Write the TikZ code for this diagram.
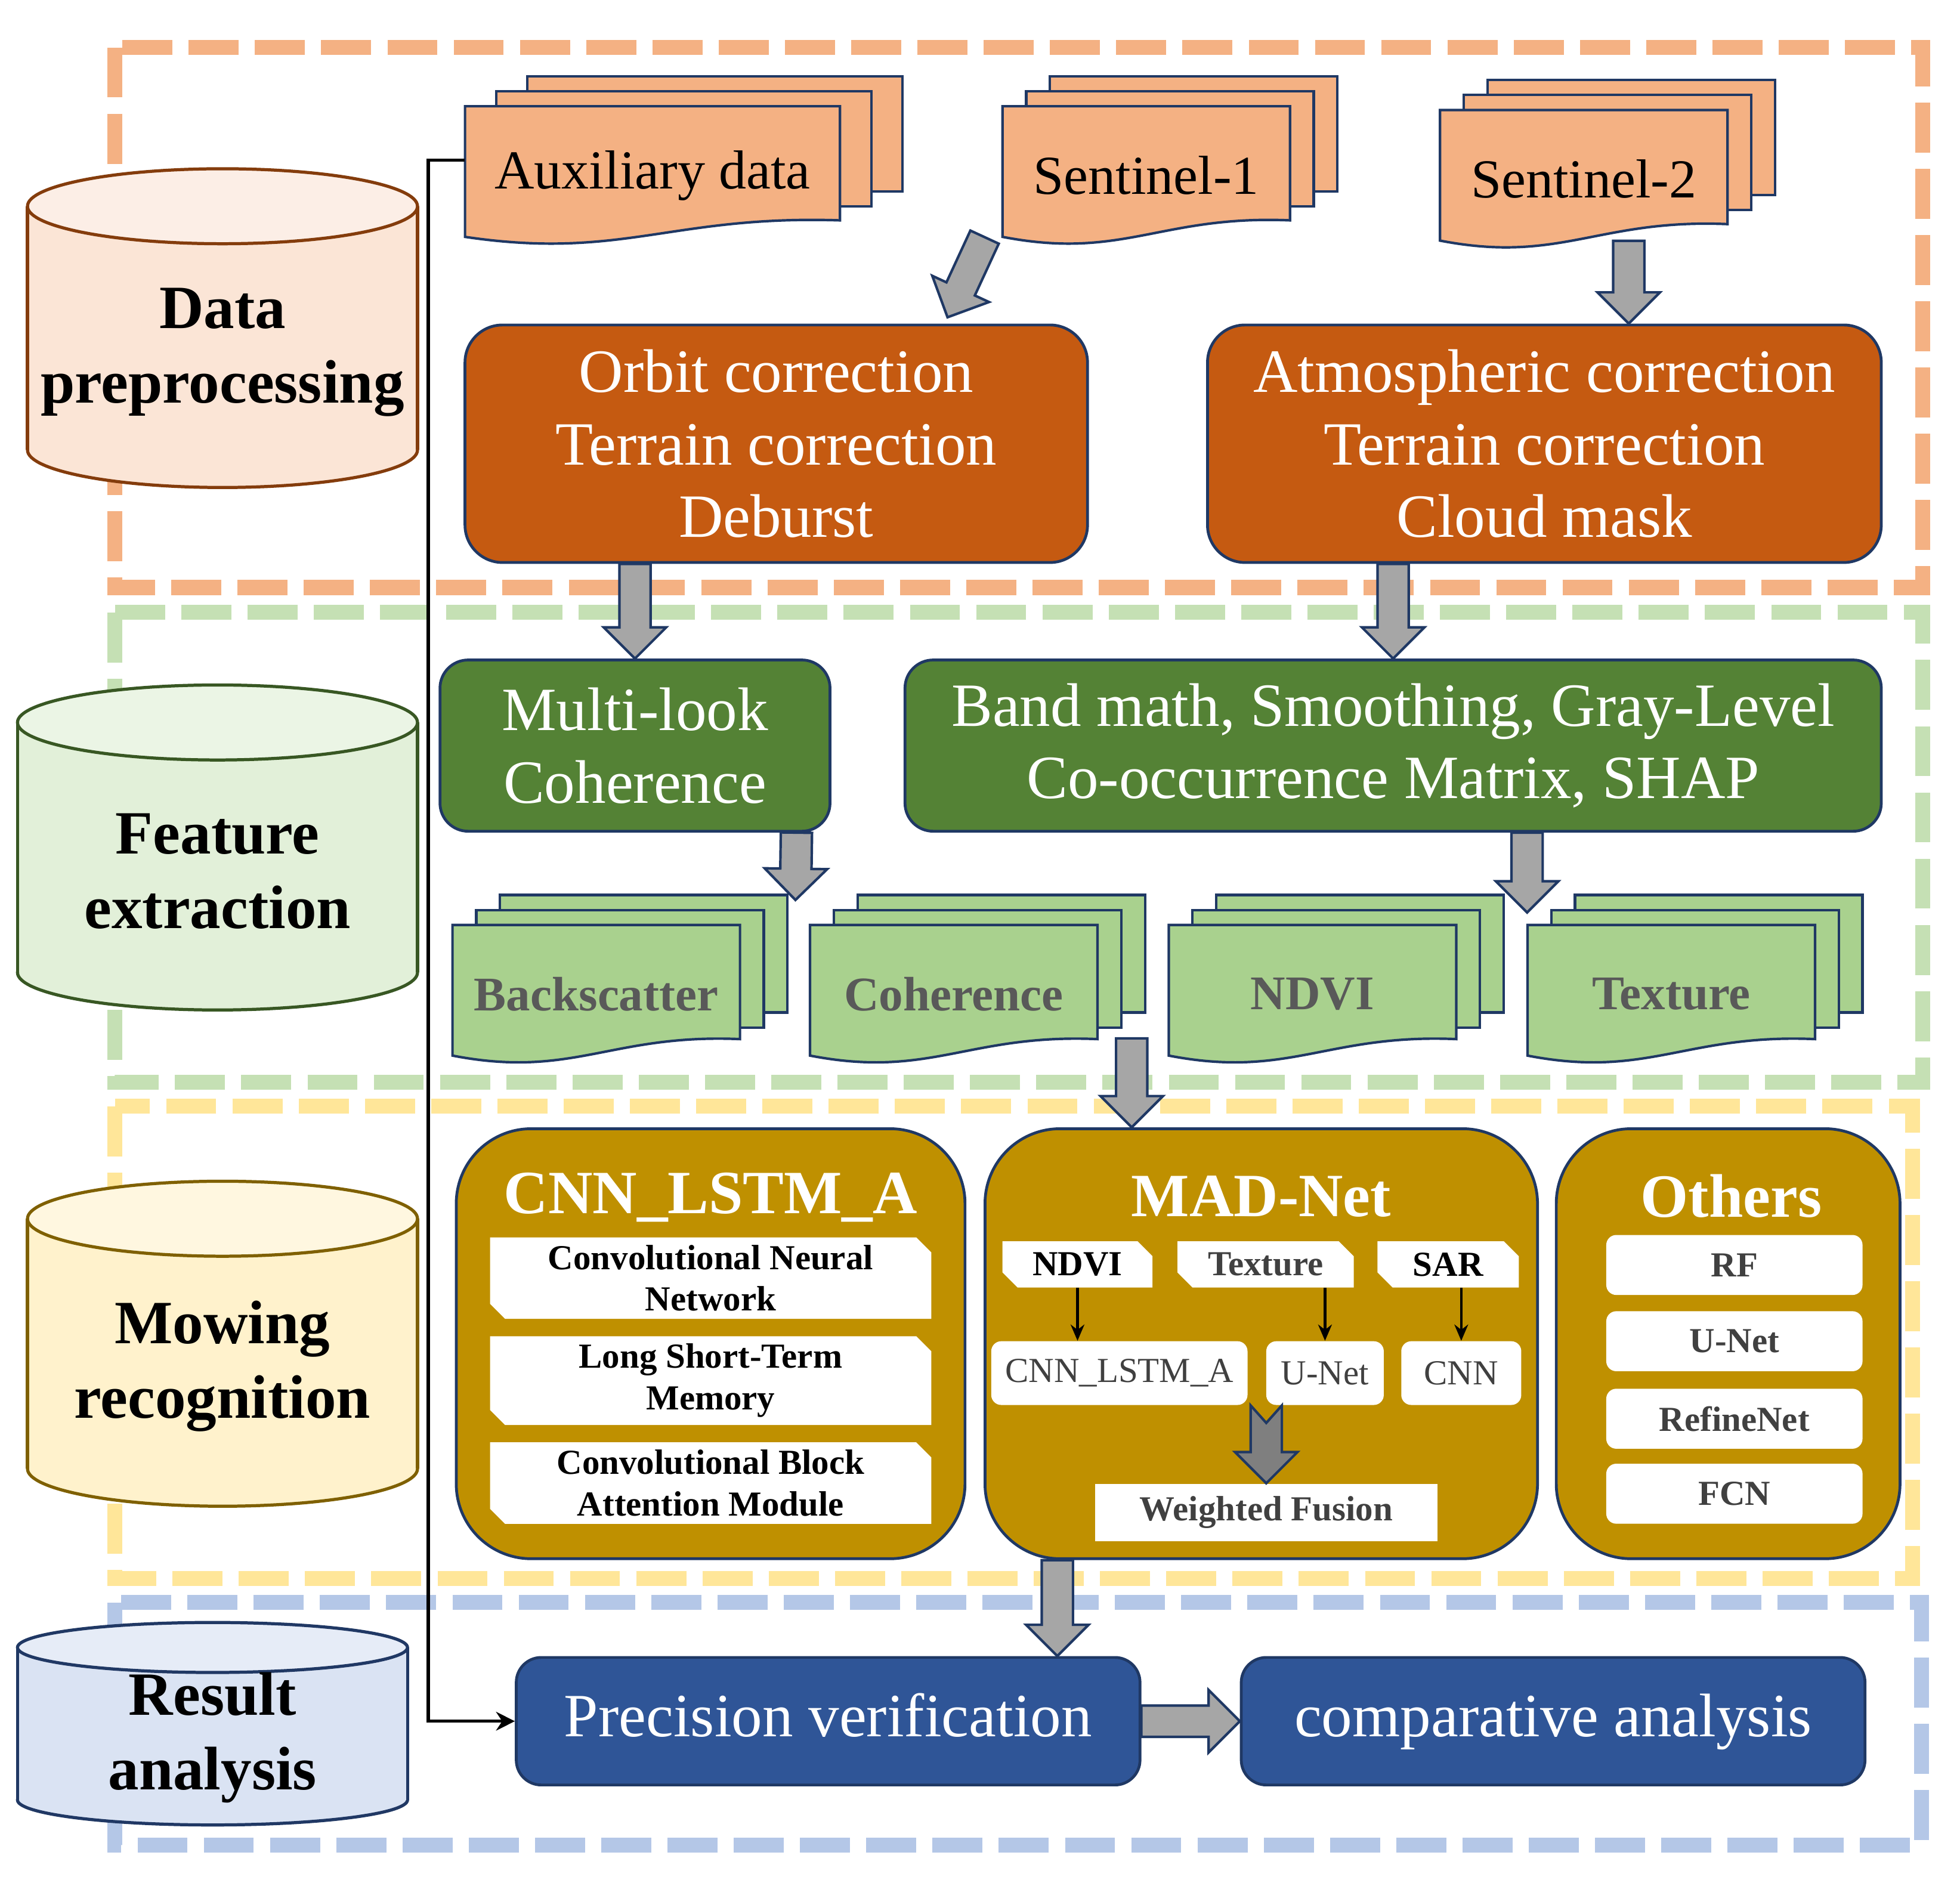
\documentclass[tikz,border=0pt]{standalone}
\usepackage{fontspec}
\setmainfont{Liberation Serif}
\usepackage{xcolor}
\usepackage{tikz}
\usetikzlibrary{arrows.meta,calc,shapes.misc}
\definecolor{navy}{HTML}{1F3864}
\definecolor{dashorange}{HTML}{F4B183}
\definecolor{dashgreen}{HTML}{C5E0B4}
\definecolor{dashyellow}{HTML}{FFE699}
\definecolor{dashblue}{HTML}{B4C7E7}
\definecolor{docorange}{HTML}{F4B183}
\definecolor{procorange}{HTML}{C55A11}
\definecolor{featgreen}{HTML}{548235}
\definecolor{docgreen}{HTML}{A9D18E}
\definecolor{modelgold}{HTML}{BF9000}
\definecolor{resblue}{HTML}{2F5597}
\definecolor{arrowgray}{HTML}{A6A6A6}
\definecolor{arrowdark}{HTML}{7F7F7F}
\definecolor{labelgray}{HTML}{595959}
\definecolor{inkgray}{HTML}{404040}
\definecolor{drumAbody}{HTML}{FBE5D6}
\definecolor{drumAtop}{HTML}{FCEEE6}
\definecolor{drumAline}{HTML}{843C0C}
\definecolor{drumBbody}{HTML}{E2F0D9}
\definecolor{drumBtop}{HTML}{EBF5E5}
\definecolor{drumBline}{HTML}{385723}
\definecolor{drumCbody}{HTML}{FFF2CC}
\definecolor{drumCtop}{HTML}{FFF7E0}
\definecolor{drumCline}{HTML}{7F6000}
\definecolor{drumDbody}{HTML}{DAE3F3}
\definecolor{drumDtop}{HTML}{E6ECF7}
\definecolor{drumDline}{HTML}{203864}
\tikzset{
  >={Stealth[length=3mm,width=3mm]},
  zone/.style={line width=2.4mm, dash pattern=on 8mm off 2.6mm},
  drumline/.style={line width=.5mm},
  drumtext/.style={align=center, font=\bfseries\fontsize{28}{34}\selectfont},
  sheetline/.style={draw=navy, line width=.4mm},
  doclabel/.style={font=\fontsize{25}{30}\selectfont},
  featlabel/.style={font=\bfseries\fontsize{22}{26}\selectfont, text=labelgray},
  stage/.style={draw=navy, line width=.45mm, text=white, align=center, inner sep=0pt, font=\fontsize{28}{33}\selectfont},
  model/.style={stage, fill=modelgold, rounded corners=12mm},
  title/.style={text=white, font=\bfseries\fontsize{28}{33}\selectfont},
  part/.style={chamfered rectangle, chamfered rectangle corners={north east,south west},
    chamfered rectangle xsep=1.2mm, chamfered rectangle ysep=1.2mm, fill=white, inner sep=0pt,
    align=center, font=\bfseries\fontsize{16}{19}\selectfont},
  tag/.style={fill=white, rounded corners=1.6mm, inner sep=0pt, text=inkgray, font=\fontsize{16}{19}\selectfont},
  fatarrow/.style={draw=navy, fill=arrowgray, line width=.4mm, line join=miter},
  tailcut/.store in=\arrowtail, tailcut=0mm,
  pointer/.style={->, line width=.5mm},
  smallpointer/.style={-{Stealth[length=2.6mm,width=2.2mm]}, line width=.4mm}
}
% cylinder: centre x, top y, bottom y, x radius, y radius, colour prefix
\newcommand{\drum}[6]{%
  \draw[drumline,draw=#6line,fill=#6body] (#1,#3) ellipse[x radius=#4,y radius=#5];
  \fill[#6body] (#1-#4,#2) rectangle (#1+#4,#3);
  \draw[drumline,draw=#6line] (#1-#4,#2) -- (#1-#4,#3) (#1+#4,#2) -- (#1+#4,#3);
  \draw[drumline,draw=#6line,fill=#6top] (#1,#2) ellipse[x radius=#4,y radius=#5];}
% front sheet with a wavy foot: x, y, w, h, fill
\newcommand{\sheet}[5]{%
  \draw[sheetline,fill=#5,shift={(#1,#2)},xscale=#3,yscale=#4]
    (0,0) -- (1,0) -- (1,.83) .. controls (.55,.79) and (.42,1.12) .. (0,.95) -- cycle;}
% block arrow between two points
\newcommand{\fatarrow}[3][]{%
  \draw[fatarrow,#1] let \p1=(#2), \p2=(#3), \n1={atan2(\y2-\y1,\x2-\x1)}, \n2={veclen(\x2-\x1,\y2-\y1)} in
    [shift={(\p1)}, rotate=\n1]
    (0mm,-2.5mm) -- (\n2-5mm,-2.5mm) -- (\n2-5mm,-5mm) -- (\n2,0mm) -- (\n2-5mm,5mm)
    -- (\n2-5mm,2.5mm) -- (0mm,2.5mm) -- (\arrowtail,0mm) -- cycle;}

\begin{document}
\begin{tikzpicture}[x=0.2mm,y=-0.2mm]
  \path[use as bounding box,fill=white] (0,0) rectangle (1568,1506);

  % stage frames
  \draw[zone,dashorange] (92,38) rectangle (1538,470);
  \draw[zone,dashgreen] (92,490) rectangle (1538,866);
  \draw[zone,dashyellow] (92,885) rectangle (1530,1263);
  \draw[zone,dashblue] (92,1282) rectangle (1537,1476);

  % stage drums
  \drum{178}{165}{360}{156}{30}{drumA}
  \drum{174}{578}{778}{160}{30}{drumB}
  \drum{178}{975}{1175}{156}{30}{drumC}
  \drum{170}{1318}{1440}{156}{20}{drumD}
  \node[drumtext] (prep) at (178,282) {Data\\preprocessing};
  \node[drumtext] (feat) at (174,697) {Feature\\extraction};
  \node[drumtext] (mow) at (178,1093) {Mowing\\recognition};
  \node[drumtext] (res) at (170,1390) {Result\\analysis};

  % input data
  \foreach \nm/\x/\y/\w/\dx/\lbl in {aux/372/85/300/25/Auxiliary data, s1/802/85/230/19/Sentinel-1, s2/1152/88/230/19/Sentinel-2}{
    \draw[sheetline,fill=docorange] (\x+2*\dx,\y-24) rectangle ++(\w,92);
    \draw[sheetline,fill=docorange] (\x+\dx,\y-12) rectangle ++(\w,92);
    \sheet{\x}{\y}{\w}{110}{docorange}
    \node[doclabel,minimum width=\w*0.2mm,minimum height=22mm,anchor=north] (\nm) at (\x+\w/2,\y) {\lbl};
  }

  \node[stage,fill=procorange,rounded corners=6mm,minimum width=99.6mm,minimum height=38mm] (orbit) at (621,355)
    {Orbit correction\\Terrain correction\\Deburst};
  \node[stage,fill=procorange,rounded corners=6mm,minimum width=107.8mm,minimum height=38mm] (atmo) at (1235.5,355)
    {Atmospheric correction\\Terrain correction\\Cloud mask};

  % features
  \node[stage,fill=featgreen,rounded corners=4.5mm,minimum width=62.4mm,minimum height=27.4mm] (mlook) at (508,596.5)
    {Multi-look\\Coherence};
  \node[stage,fill=featgreen,rounded corners=4.5mm,minimum width=156.2mm,minimum height=27.4mm] (band) at (1114.5,596.5)
    {Band math, Smoothing, Gray-Level\\Co-occurrence Matrix, SHAP};

  \foreach \nm/\x/\lbl in {bsc/362/Backscatter, coh/648/Coherence, ndvi/935/NDVI, tex/1222/Texture}{
    \draw[sheetline,fill=docgreen] (\x+38,716) rectangle ++(230,94);
    \draw[sheetline,fill=docgreen] (\x+19,728) rectangle ++(230,94);
    \sheet{\x}{740}{230}{110}{docgreen}
    \node[featlabel,minimum width=46mm,minimum height=22mm,anchor=north] (\nm) at (\x+115,740) {\lbl};
  }

  % models
  \node[model,minimum width=81.4mm,minimum height=68.8mm] (cnn) at (568.5,1075) {};
  \node[title] (cnnt) at (568.5,958) {CNN\_LSTM\_A};
  \foreach \nm/\y/\lbl in {conv/1022.5/Convolutional Neural\\Network, lstm/1104.5/Long Short-Term\\Memory, cbam/1186.5/Convolutional Block\\Attention Module}
    \node[part,minimum width=70.6mm,minimum height=11.8mm] (\nm) at (568.5,\y) {\lbl};

  \node[model,minimum width=88.4mm,minimum height=68.8mm] (mad) at (1009,1075) {};
  \node[title] (madt) at (1009,957) {MAD-Net};
  \node[part,minimum width=24mm,minimum height=7.4mm] (ndvi2) at (862,1011.5) {NDVI};
  \node[part,text=inkgray,minimum width=28.2mm,minimum height=7.4mm] (tex2) at (1012.5,1011.5) {Texture};
  \node[part,minimum width=22.6mm,minimum height=7.4mm] (sar) at (1158.5,1011.5) {SAR};
  \node[tag,minimum width=41mm,minimum height=10.2mm] (cnn2) at (895.5,1098.5) {CNN\_LSTM\_A};
  \node[tag,minimum width=18.8mm,minimum height=10.2mm] (unet2) at (1060,1098.5) {U-Net};
  \node[tag,minimum width=19.2mm,minimum height=10.2mm] (cnn3) at (1169,1098.5) {CNN};
  \node[tag,rounded corners=0pt,font=\bfseries\fontsize{16}{19}\selectfont,minimum width=54.8mm,minimum height=9.2mm] (fus) at (1013,1210) {Weighted Fusion};
  \draw[smallpointer] (ndvi2.south) -- (cnn2.north -| ndvi2.south);
  \draw[smallpointer] (tex2.south -| unet2.north) -- (unet2.north);
  \draw[smallpointer] (sar.south -| cnn3.north) -- (cnn3.north);
  \fatarrow[tailcut=2.8mm,fill=arrowdark]{unet2.south -| fus.north}{fus.north}

  \node[model,minimum width=55mm,minimum height=68.8mm] (oth) at (1382.5,1075) {};
  \node[title] (otht) at (1385,957) {Others};
  \foreach \nm/\y/\lbl in {rf/1012/RF, unet3/1073/U-Net, refine/1135/RefineNet, fcn/1195/FCN}
    \node[tag,font=\bfseries\fontsize{16}{19}\selectfont,minimum width=41mm,minimum height=9.6mm] (\nm) at (1387.5,\y) {\lbl};

  % results
  \node[stage,fill=resblue,rounded corners=4mm,minimum width=99.8mm,minimum height=20.4mm,text height=20pt,text depth=6pt] (prec) at (662.5,1377) {Precision verification};
  \node[stage,fill=resblue,rounded corners=4mm,minimum width=99.8mm,minimum height=20.4mm,text height=20pt,text depth=6pt] (comp) at (1242.5,1377) {comparative analysis};

  % flow
  \draw[pointer] ($(aux.north west)+(0,43)$) -- ++(-29,0) |- (prec.west);
  \coordinate (s2out) at ($(s2.south)+(36,-6)$);
  \coordinate (mlookout) at ($(mlook.south east)+(-28,0)$);
  \coordinate (cohout) at ($(coh.south east)+(27,-20)$);
  \coordinate (madout) at ($(mad.south west)+(59,0)$);
  \fatarrow{$(s1.south west)+(-14,-6)$}{$(orbit.north)+(137,-5)$}
  \fatarrow{s2out}{atmo.north -| s2out}
  \fatarrow{orbit.south -| mlook.north}{mlook.north}
  \fatarrow{atmo.south -| band.north}{band.north}
  \fatarrow{mlookout}{$(bsc.north east)+(44,-20)$}
  \fatarrow{band.south -| tex.north west}{$(tex.north west)+(0,-10)$}
  \fatarrow{cohout}{mad.north -| cohout}
  \fatarrow{madout}{prec.north -| madout}
  \fatarrow{prec.east}{comp.west}
\end{tikzpicture}
\end{document}
